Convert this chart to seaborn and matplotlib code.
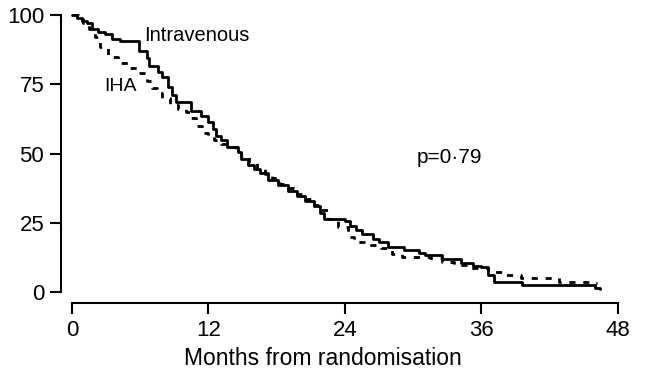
"""
Survival by treatment arm: intravenous vs IHA
"""
import pandas as pd
import matplotlib
matplotlib.use("Agg")
import matplotlib.pyplot as plt
import seaborn as sns

# ========== data ==========
iv_months = [0, 0.4, 0.9, 1.3, 1.8, 2.3, 2.9, 3.5, 4.2, 5.9, 6.6, 6.8, 7.6, 7.9,
             8.4, 8.8, 9.1, 10.5, 11.3, 12.0, 12.4, 12.7, 13.1, 13.6, 14.6, 14.9,
             15.5, 16.0, 16.5, 17.2, 18.1, 19.0, 19.8, 20.5, 21.3, 21.8, 22.2,
             24.0, 24.4, 25.0, 25.5, 26.5, 27.0, 27.8, 29.2, 30.5, 31.0, 32.5,
             34.2, 35.3, 36.0, 36.6, 37.1, 39.6, 46.0, 46.4]
iv_surv = [100, 99, 98, 97, 95, 94, 93, 91.5, 90.5, 87, 84.5, 81.5, 79.5, 77.5,
           74, 71, 68.5, 65.5, 63.5, 61.5, 59, 56.5, 55, 52.5, 50.5, 48,
           46, 44.5, 43, 40.5, 38.5, 36.5, 34.5, 33, 31, 28.5, 26.5,
           25.5, 24, 22.5, 21, 19, 18, 16.2, 15.2, 14, 13.2, 11.8,
           10.5, 9.5, 9, 6, 3.6, 2.6, 1.5, 1.0]

iha_months = [0, 0.5, 1.0, 1.5, 2.0, 2.5, 3.2, 4.0, 5.0, 5.8, 6.6, 7.0, 7.5, 7.9,
              8.6, 9.3, 10.0, 10.4, 10.9, 11.4, 12.0, 12.5, 13.1, 13.5, 14.4,
              14.9, 15.6, 16.3, 17.0, 17.6, 18.3, 19.0, 19.8, 20.6, 21.3, 21.9,
              22.5, 23.4, 24.3, 24.8, 26.0, 27.2, 28.1, 29.0, 31.5, 32.5, 33.6,
              34.8, 36.6, 38.0, 39.5, 42.8, 45.5, 46.2]
iha_surv = [100, 98.5, 97, 95, 92, 88.5, 85, 82.5, 81, 79, 76, 73.5, 72, 70,
            67.5, 66.2, 65, 63, 60, 57.5, 56.5, 55, 53.5, 52.5, 51.5,
            49, 46.5, 44.5, 42.5, 41, 39, 37.5, 35.5, 33.5, 31.5, 29.6,
            26.5, 23.5, 20, 18, 17, 15.9, 13.8, 12.6, 12.2, 11, 9.7,
            8.7, 7.2, 6.1, 5, 3.6, 3.2, 3.2]

x_ticks = [0, 12, 24, 36, 48]
y_ticks = [0, 25, 50, 75, 100]

iv = pd.DataFrame({"month": iv_months, "surv": iv_surv})
iha = pd.DataFrame({"month": iha_months, "surv": iha_surv})

# ========== plot ==========
sns.set_style("ticks")
plt.rcParams["font.family"] = ["Liberation Sans", "DejaVu Sans"]
plt.rcParams["text.color"] = "black"
plt.rcParams["axes.labelcolor"] = "black"
plt.rcParams["xtick.color"] = "black"
plt.rcParams["ytick.color"] = "black"

fig = plt.figure(figsize=(6.46, 3.86), dpi=100)
ax = fig.add_axes([0.1115, 0.2435, 0.845, 0.7176])

sns.lineplot(data=iha, x="month", y="surv", ax=ax, color="black", estimator=None,
             drawstyle="steps-post", linewidth=2.0, linestyle=(0, (2.2, 2.8)),
             clip_on=False)
sns.lineplot(data=iv, x="month", y="surv", ax=ax, color="black", estimator=None,
             drawstyle="steps-post", linewidth=2.0, clip_on=False)

ax.set_xlim(0, 48)
ax.set_ylim(0, 100)
ax.set_xticks(x_ticks)
ax.set_yticks(y_ticks)
ax.tick_params(labelsize=16, width=1.5, length=8, color="black", pad=4)
ax.set_xlabel("Months from randomisation", fontsize=16.5)
ax.xaxis.set_label_coords(0.46, -0.198)
ax.set_ylabel("")

sns.despine(ax=ax, offset=8, trim=True)
for side in ["left", "bottom"]:
    ax.spines[side].set_linewidth(1.5)
    ax.spines[side].set_color("black")

ax.text(6.3, 90.5, "Intravenous", fontsize=14.5, ha="left", va="baseline")
ax.text(2.8, 72.5, "IHA", fontsize=14, ha="left", va="baseline")
ax.text(30.3, 46.5, "p=0\u00b779", fontsize=15, ha="left", va="baseline")

plt.savefig("out.png", dpi=100)
plt.close()
